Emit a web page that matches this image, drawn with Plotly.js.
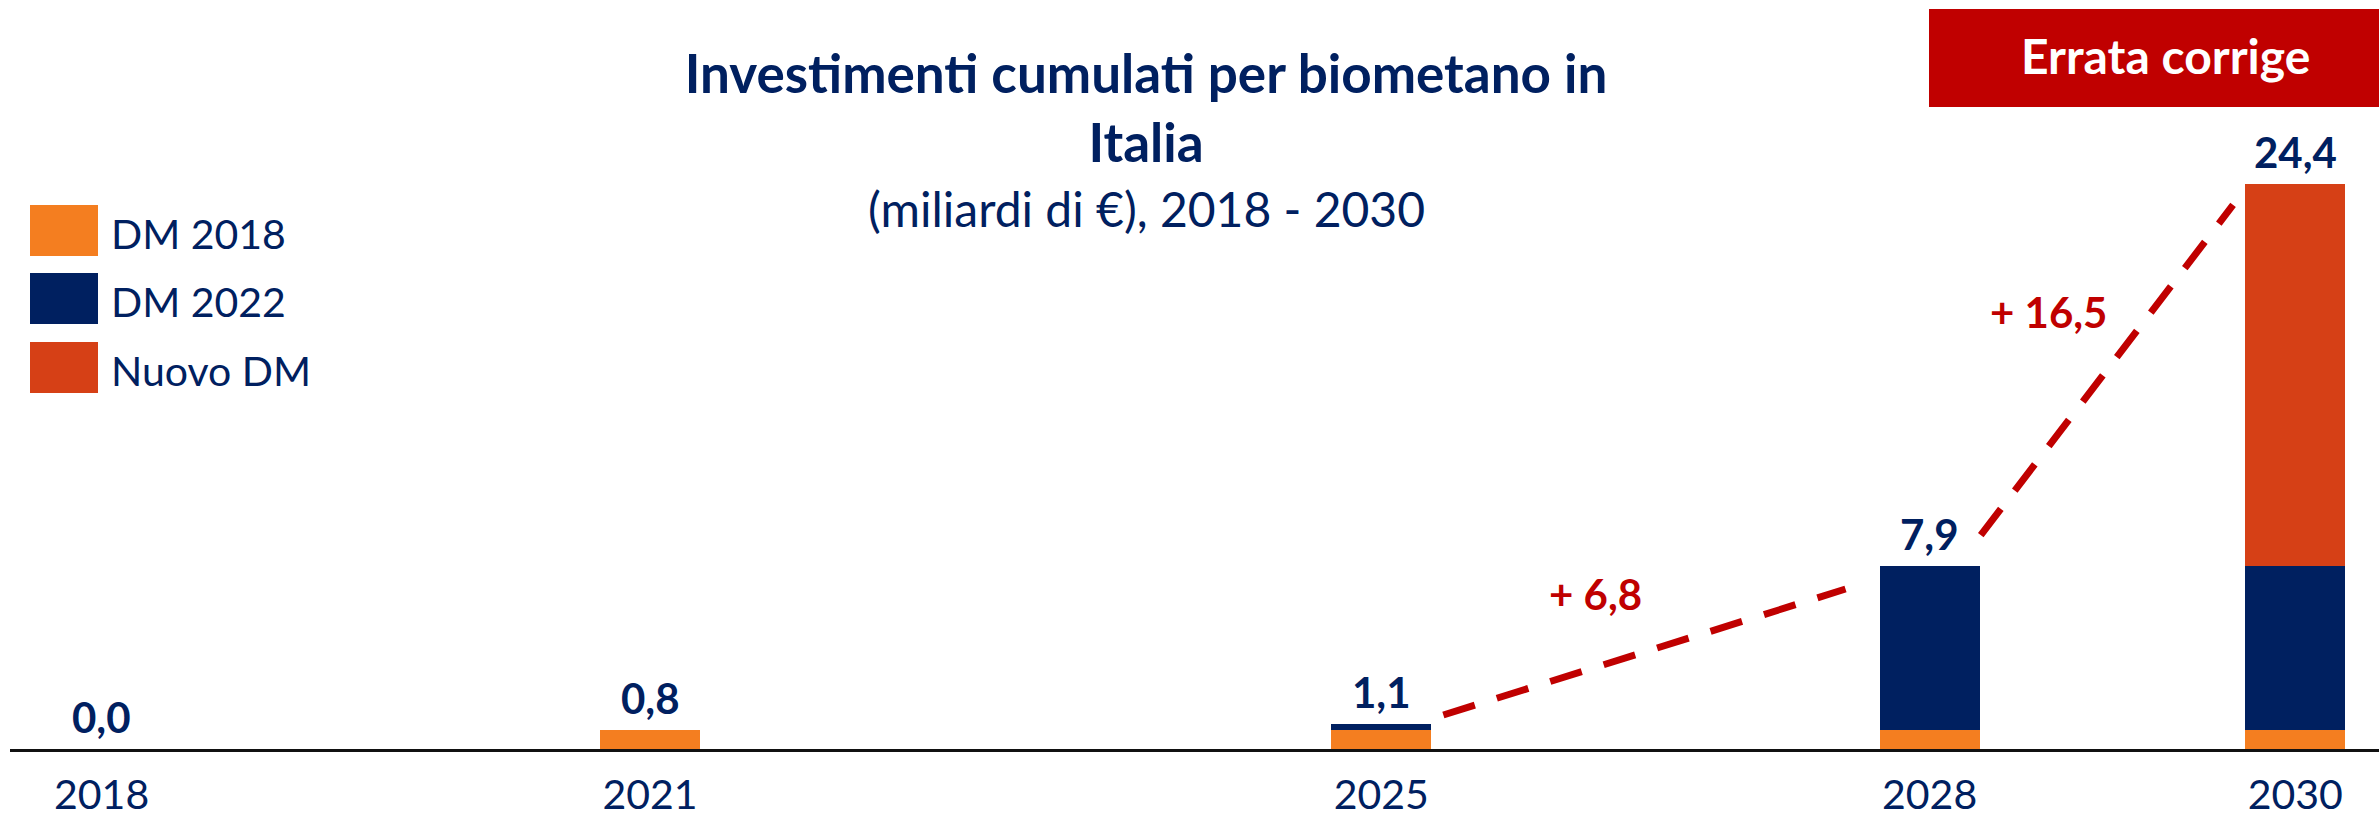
<!DOCTYPE html>
<html>
<head>
<meta charset="utf-8">
<script src="https://cdn.plot.ly/plotly-3.0.1.min.js"></script>
<style>html,body{margin:0;padding:0;background:#fff;}#chart{width:2379px;height:814px;}</style>
</head>
<body>
<div id="chart"></div>
<script>
// ---- data ----
const years = [2018, 2021, 2025, 2028, 2030];
const tickLabels = ['2018', '2021', '2025', '2028', '2030'];
const seriesNames = ['DM 2018', 'DM 2022', 'Nuovo DM'];
const dm2018 = [0.0, 0.8, 0.8, 0.8, 0.8];
const dm2022 = [0.0, 0.0, 0.3, 7.1, 7.1];
const nuovoDM = [0.0, 0.0, 0.0, 0.0, 16.5];
// dashed growth connectors
const conn1X = [2025.34, 2027.54];
const conn1Y = [1.47, 6.91];
const conn2X = [2028.28, 2029.66];
const conn2Y = [9.24, 23.5];
const titleText = 'Investimenti cumulati per biometano in<br>Italia';
const subtitleText = '(miliardi di €), 2018 - 2030';
const stampText = 'Errata corrige';

// ---- styling ----
const W = 2379, H = 814;
const M = {l: 10, r: 0, t: 100, b: 65};
const PW = W - M.l - M.r, PH = H - M.t - M.b;
const NAVY = '#002060', ORANGE = '#F47E20', NEWC = '#D64016', RED = '#C00000';
const FONT = 'Lato, "Noto Sans", sans-serif';
const colors = [ORANGE, NAVY, NEWC];
const fx = px => (px - M.l) / PW;          // pixel -> paper x
const fy = py => (H - M.b - py) / PH;      // pixel -> paper y

const totals = years.map((_, i) => +(dm2018[i] + dm2022[i] + nuovoDM[i]).toFixed(1));
const fmt = v => v.toFixed(1).replace('.', ',');

const series = [dm2018, dm2022, nuovoDM];
const traces = series.map((vals, k) => ({
  type: 'bar', x: years, y: vals, name: seriesNames[k],
  marker: {color: colors[k], line: {width: 0}}, width: 0.547,
  hoverinfo: 'skip', showlegend: false
}));
[[conn1X, conn1Y], [conn2X, conn2Y]].forEach(([x, y]) => traces.push({
  type: 'scatter', mode: 'lines', x: x, y: y,
  line: {color: RED, width: 7, dash: '33px,23px'},
  hoverinfo: 'skip', showlegend: false
}));

const annotations = [];
// totals above bars
years.forEach((yr, i) => annotations.push({
  x: yr, y: totals[i], xref: 'x', yref: 'y', text: '<b>' + fmt(totals[i]) + '</b>',
  showarrow: false, xanchor: 'center', yanchor: 'middle', yshift: 32,
  font: {family: FONT, size: 42, color: NAVY}
}));
// growth labels
const growthPos = [[2026.17, 6.70], [2028.65, 18.86]];
[[2, 3], [3, 4]].forEach(([a, b], j) => annotations.push({
  x: growthPos[j][0], y: growthPos[j][1], xref: 'x', yref: 'y',
  text: '<b>+ ' + fmt(totals[b] - totals[a]) + '</b>', showarrow: false,
  xanchor: 'center', yanchor: 'middle', font: {family: FONT, size: 42, color: RED}
}));
// subtitle
annotations.push({
  x: fx(1146), y: fy(209), xref: 'paper', yref: 'paper', text: subtitleText,
  showarrow: false, xanchor: 'center', yanchor: 'middle',
  font: {family: FONT, size: 48, color: NAVY}
});
// stamp
annotations.push({
  x: fx(2165), y: fy(56), xref: 'paper', yref: 'paper', text: '<b>' + stampText + '</b>',
  showarrow: false, xanchor: 'center', yanchor: 'middle',
  font: {family: FONT, size: 48, color: '#FFFFFF'}
});

const shapes = [{
  type: 'rect', xref: 'paper', yref: 'paper', x0: fx(1929), x1: fx(2400), y0: fy(107), y1: fy(9),
  fillcolor: RED, line: {width: 0}, layer: 'above'
}];
// custom legend
const legTop = [205, 273, 342];
seriesNames.forEach((nm, k) => {
  shapes.push({type: 'rect', xref: 'paper', yref: 'paper', x0: fx(30), x1: fx(98),
    y0: fy(legTop[k] + 51), y1: fy(legTop[k]), fillcolor: colors[k], line: {width: 0}});
  annotations.push({x: fx(109), y: fy(legTop[k] + 28), xref: 'paper', yref: 'paper', text: nm,
    showarrow: false, xanchor: 'left', yanchor: 'middle', font: {family: FONT, size: 41, color: NAVY}});
});

const layout = {
  width: W, height: H, margin: M, paper_bgcolor: '#fff', plot_bgcolor: '#fff',
  barmode: 'stack', showlegend: false, font: {family: FONT, color: NAVY},
  title: {text: '<b>' + titleText + '</b>', xref: 'container', x: 1146 / W, xanchor: 'center',
    yref: 'container', y: 1 - 93 / H, yanchor: 'top', font: {family: FONT, size: 53, color: NAVY}},
  xaxis: {range: [2018 - (101.6 - M.l) / 182.8, 2018 + (W - M.r - 101.6) / 182.8],
    tickvals: years, ticktext: tickLabels, showgrid: false, zeroline: false,
    showline: true, linecolor: '#111', linewidth: 3, ticks: '', ticklabelstandoff: 8,
    tickfont: {family: FONT, size: 41, color: NAVY}, fixedrange: true},
  yaxis: {range: [0, PH / 23.15], visible: false, fixedrange: true},
  annotations: annotations, shapes: shapes
};
Plotly.newPlot('chart', traces, layout, {displayModeBar: false, staticPlot: true});
</script>
</body>
</html>
